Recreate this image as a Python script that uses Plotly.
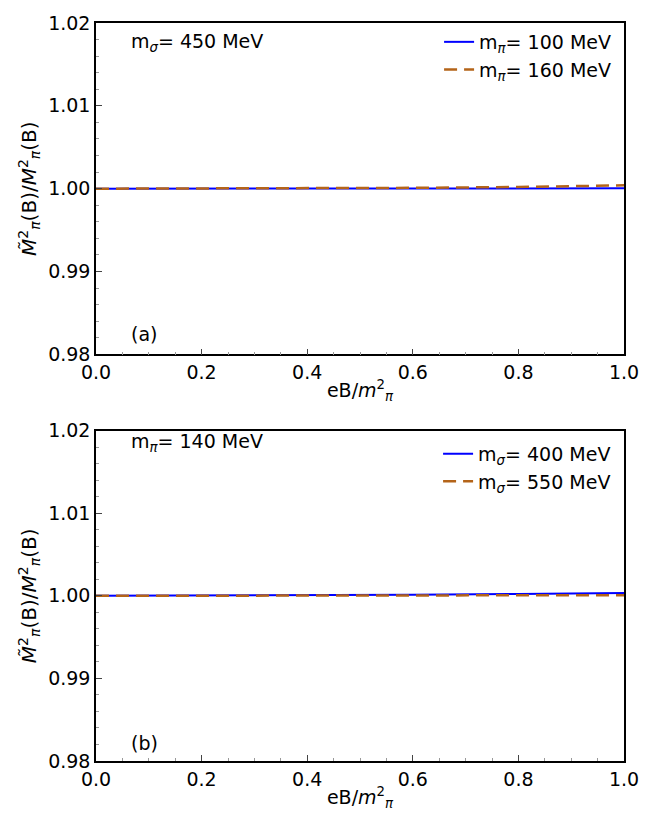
import plotly.graph_objects as go

# Data
eB = [0.0, 0.2, 0.4, 0.6, 0.8, 1.0]
# panel (a): m_sigma = 450 MeV
a_mpi100 = [1.0, 1.0, 1.00001, 1.00002, 1.00003, 1.00004]
a_mpi160 = [1.0, 1.00001, 1.00004, 1.0001, 1.0002, 1.0004]
# panel (b): m_pi = 140 MeV
b_msig400 = [1.0, 1.00001, 1.00005, 1.00012, 1.00022, 1.00035]
b_msig550 = [1.0, 1.0, 1.00001, 1.00003, 1.00005, 1.00008]

xticks = [0.0, 0.2, 0.4, 0.6, 0.8, 1.0]
yticks = [0.98, 0.99, 1.00, 1.01, 1.02]

BLUE = "#0000FF"
ORANGE = "rgb(180,100,25)"
FONT = "DejaVu Sans, Liberation Sans, Arial, sans-serif"

fig = go.Figure()

fig.add_trace(go.Scatter(x=eB, y=a_mpi100, mode="lines", line=dict(color=BLUE, width=2),
                         name="m<sub><i>π</i></sub>= 100 MeV", xaxis="x", yaxis="y",
                         legend="legend", legendgroup="a1"))
fig.add_trace(go.Scatter(x=eB, y=a_mpi160, mode="lines", line=dict(color=ORANGE, width=2.5, dash="13px,7px"),
                         name="m<sub><i>π</i></sub>= 160 MeV", xaxis="x", yaxis="y",
                         legend="legend", legendgroup="a2"))
fig.add_trace(go.Scatter(x=eB, y=b_msig400, mode="lines", line=dict(color=BLUE, width=2),
                         name="m<sub><i>σ</i></sub>= 400 MeV", xaxis="x2", yaxis="y2",
                         legend="legend2", legendgroup="b1"))
fig.add_trace(go.Scatter(x=eB, y=b_msig550, mode="lines", line=dict(color=ORANGE, width=2.5, dash="13px,7px"),
                         name="m<sub><i>σ</i></sub>= 550 MeV", xaxis="x2", yaxis="y2",
                         legend="legend2", legendgroup="b2"))

ytitle = "<i>M̃</i><sup>2</sup><sub><i>π</i></sub>(B)/<i>M</i><sup>2</sup><sub><i>π</i></sub>(B)"
xtitle = "eB/<i>m</i><sup>2</sup><sub><i>π</i></sub>"

def xax(anchor):
    return dict(range=[0, 1], tickvals=xticks, ticktext=["%.1f" % v for v in xticks],
                ticks="inside", ticklen=6, tickwidth=1, tickcolor="#444",
                minor=dict(dtick=0.05, ticks="inside", ticklen=3, tickcolor="#999"),
                showline=True, linecolor="black", linewidth=1.5, mirror=True,
                showgrid=False, zeroline=False, anchor=anchor,
                tickfont=dict(size=19, color="black", family=FONT),
                title=dict(text=xtitle, font=dict(size=19, color="black", family=FONT), standoff=2))

def yax(anchor, domain):
    return dict(range=[0.98, 1.02], tickvals=yticks, ticktext=["%.2f" % v for v in yticks],
                ticks="inside", ticklen=6, tickwidth=1, tickcolor="#444",
                minor=dict(dtick=0.002, ticks="inside", ticklen=3, tickcolor="#999"),
                showline=True, linecolor="black", linewidth=1.5, mirror=True,
                showgrid=False, zeroline=False, anchor=anchor, domain=domain,
                tickfont=dict(size=19, color="black", family=FONT),
                title=dict(text=ytitle, font=dict(size=20, color="black", family=FONT), standoff=6))

legfont = dict(size=19, family=FONT, color="black")
annfont = dict(size=19, family=FONT, color="black")

fig.update_layout(
    width=651, height=827,
    margin=dict(l=96, r=16, t=17, b=66),
    plot_bgcolor="white", paper_bgcolor="white",
    font=dict(family=FONT, color="black"),
    xaxis=xax("y"),
    yaxis=yax("x", [0.551, 1.0]),
    xaxis2=xax("y2"),
    yaxis2=yax("x2", [0.0, 0.4476]),
    legend=dict(x=0.985, y=1.0, xanchor="right", yanchor="top", bgcolor="rgba(0,0,0,0)",
                font=legfont, tracegroupgap=0, itemwidth=30),
    legend2=dict(x=0.985, y=0.442, xanchor="right", yanchor="top", bgcolor="rgba(0,0,0,0)",
                 font=legfont, tracegroupgap=0, itemwidth=30),
    annotations=[
        dict(text="m<sub><i>σ</i></sub>= 450 MeV", x=0.063, y=1.0177, xref="x", yref="y",
             xanchor="left", yanchor="middle", showarrow=False, font=annfont),
        dict(text="(a)", x=0.063, y=0.9824, xref="x", yref="y",
             xanchor="left", yanchor="middle", showarrow=False, font=annfont),
        dict(text="m<sub><i>π</i></sub>= 140 MeV", x=0.063, y=1.0186, xref="x2", yref="y2",
             xanchor="left", yanchor="middle", showarrow=False, font=annfont),
        dict(text="(b)", x=0.063, y=0.9822, xref="x2", yref="y2",
             xanchor="left", yanchor="middle", showarrow=False, font=annfont),
    ],
)

fig.write_html(
    "out.html",
    config={"displayModeBar": False},
    post_script=(
        "document.documentElement.style.margin='0';"
        "document.documentElement.style.overflow='hidden';"
        "document.body.style.margin='0';"
        "document.body.style.overflow='hidden';"
    ),
)
